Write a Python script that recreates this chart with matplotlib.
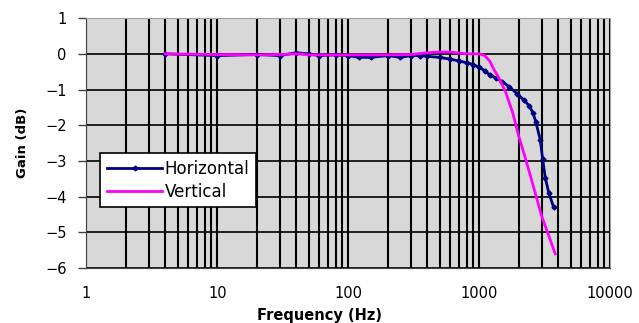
import numpy as np
import matplotlib.pyplot as plt
from matplotlib.ticker import FixedLocator, NullFormatter

plt.rcParams['font.family'] = ['DejaVu Sans']

# Horizontal polarisation response
horiz_freq = [4, 10, 20, 30, 40, 50, 60, 80, 100, 120, 150, 200, 250, 300,
              350, 400, 500, 600, 700, 800, 900, 1000, 1100, 1200, 1350,
              1500, 1700, 1950, 2200, 2400, 2570, 2700, 2920, 3050, 3190,
              3400, 3700]
horiz_gain = [0.0, -0.05, -0.02, -0.05, 0.03, 0.0, -0.05, -0.03, -0.05,
              -0.1, -0.1, -0.05, -0.1, -0.05, -0.05, -0.07, -0.1, -0.15,
              -0.2, -0.25, -0.3, -0.38, -0.47, -0.59, -0.68, -0.78, -0.93,
              -1.12, -1.3, -1.45, -1.65, -1.9, -2.4, -2.95, -3.47, -3.9,
              -4.3]

# Vertical polarisation response
vert_freq = [4, 10, 20, 30, 40, 50, 100, 200, 300, 400, 500, 600, 700, 800,
             1000, 1100, 1200, 1300, 1400, 1500, 1600, 1800, 2000, 2200,
             2450, 2700, 3000, 3400, 3800]
vert_gain = [0.0, -0.02, -0.03, -0.02, 0.0, -0.03, -0.03, -0.03, -0.02,
             0.03, 0.05, 0.05, 0.02, 0.0, 0.0, -0.05, -0.2, -0.45, -0.65,
             -0.87, -1.1, -1.65, -2.3, -2.8, -3.4, -3.95, -4.55, -5.1, -5.6]

x_ticks = [1, 10, 100, 1000, 10000]
y_ticks = [1, 0, -1, -2, -3, -4, -5, -6]

fig = plt.figure(figsize=(6.39, 3.23), dpi=100)
ax = fig.add_axes([0.135, 0.170, 0.820, 0.774])
ax.set_facecolor('#d8d8d8')

ax.set_xscale('log')
ax.set_xlim(1, 10000)
ax.set_ylim(-6, 1)

# Excel-style grid: every decade subdivision and every dB
minor = [m * 10 ** d for d in range(4) for m in range(2, 10)]
ax.xaxis.set_major_locator(FixedLocator(x_ticks))
ax.xaxis.set_minor_locator(FixedLocator(minor))
ax.xaxis.set_minor_formatter(NullFormatter())
ax.set_xticklabels([str(v) for v in x_ticks])
ax.set_yticks(y_ticks)
ax.grid(True, which='both', axis='x', color='black', linewidth=1.5)
ax.grid(True, which='major', axis='y', color='black', linewidth=1.2)
ax.set_axisbelow(True)

ax.plot(horiz_freq, horiz_gain, color='#000080', linewidth=2,
        marker='D', markersize=2.5, label='Horizontal')
ax.plot(vert_freq, vert_gain, color='#ff00ff', linewidth=2,
        label='Vertical')

for side in ['top', 'right']:
    ax.spines[side].set_color('#a0a0a0')
for side in ['left', 'bottom']:
    ax.spines[side].set_color('#404040')
ax.tick_params(which='both', length=0, labelsize=10.5, pad=13)
ax.tick_params(axis='y', length=6, width=1, color='#404040', pad=8)

ax.set_xlabel('Frequency (Hz)', fontsize=10.5, fontweight='bold')
ax.xaxis.set_label_coords(0.5, 0.045, transform=fig.transFigure)
ax.set_ylabel('Gain (dB)', fontsize=9.5, fontweight='bold')
ax.yaxis.set_label_coords(0.045, 0.557, transform=fig.transFigure)

leg = ax.legend(loc='upper left', bbox_to_anchor=(0.027, 0.46),
                fontsize=12, frameon=True, fancybox=False, framealpha=1,
                edgecolor='black', borderpad=0.4, handlelength=3.3,
                labelspacing=0.3, handletextpad=0.15, borderaxespad=0)
leg.get_frame().set_linewidth(1.2)

fig.savefig('out.png', dpi=100)
